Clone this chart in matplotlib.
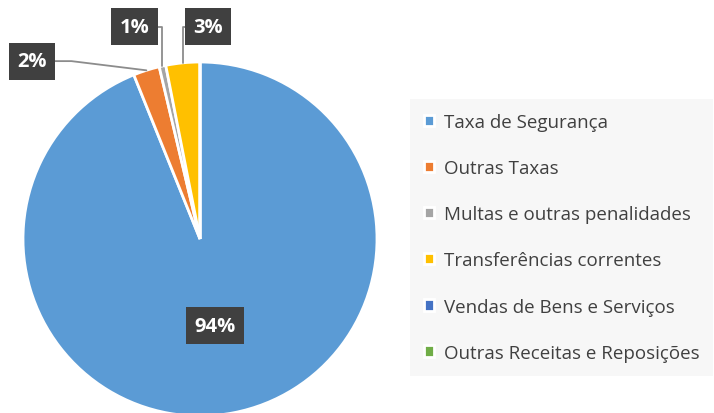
import matplotlib.pyplot as plt
import numpy as np

categorias = ['Taxa de Segurança', 'Outras Taxas', 'Multas e outras penalidades',
              'Transferências correntes', 'Vendas de Bens e Serviços',
              'Outras Receitas e Reposições']
valores = [93.9, 2.4, 0.6, 3.1, 0.0, 0.0]
rotulos = ['94%', '2%', '1%', '3%', '', '']
cores = ['#5B9BD5', '#ED7D31', '#A5A5A5', '#FFC000', '#4472C4', '#70AD47']

plt.rcParams['font.family'] = ['Open Sans', 'DejaVu Sans']

fig = plt.figure(figsize=(7.14, 4.14), dpi=100)
fig.set_facecolor('white')

# pie axes: centre ~ (200, 240) px, radius ~177 px
R = 177
ax = fig.add_axes([(200 - R) / 714, (174 - R) / 414, 2 * R / 714, 2 * R / 414])
wedges, _ = ax.pie(valores, colors=cores, startangle=90, counterclock=False,
                   wedgeprops=dict(edgecolor='white', linewidth=2))
ax.set_xlim(-1, 1)
ax.set_ylim(-1, 1)
ax.set_aspect('equal')
for w in wedges:
    w.set_clip_on(False)

caixa = dict(boxstyle='square,pad=0.42', fc='#404040', ec='none')
texto = dict(color='white', fontsize=14.5, fontweight='bold', ha='center', va='center')

# posições das etiquetas (coordenadas de dados)
pos_rot = {0: (0.085, -0.49), 1: (-0.95, 1.005), 2: (-0.37, 1.2), 3: (0.045, 1.2)}
ligacao = {1: 'angle,angleA=0,angleB=173,rad=0',
           2: 'angle,angleA=0,angleB=90,rad=0',
           3: 'angle,angleA=0,angleB=90,rad=0'}

for i, w in enumerate(wedges):
    if not rotulos[i]:
        continue
    ang = np.deg2rad((w.theta1 + w.theta2) / 2)
    pt = (np.cos(ang), np.sin(ang))
    if i == 0:
        ax.text(*pos_rot[i], rotulos[i], bbox=caixa, **texto)
    else:
        ax.annotate(rotulos[i], xy=pt, xytext=pos_rot[i], bbox=caixa,
                    arrowprops=dict(arrowstyle='-', color='#8c8c8c', lw=1.3,
                                    shrinkA=0, shrinkB=0,
                                    connectionstyle=ligacao[i]),
                    annotation_clip=False, **texto)

leg = fig.legend(wedges, categorias, loc='upper left',
                 bbox_to_anchor=(410 / 714, 1 - 100 / 414),
                 frameon=True, fancybox=False, fontsize=13.5,
                 handlelength=0.55, handleheight=0.55, handletextpad=0.5,
                 labelspacing=1.5, borderpad=0.75, borderaxespad=0)
leg.get_frame().set_facecolor('#f6f6f6')
leg.get_frame().set_edgecolor('none')
for t in leg.get_texts():
    t.set_color('#404040')

fig.savefig('out.png', dpi=100)
